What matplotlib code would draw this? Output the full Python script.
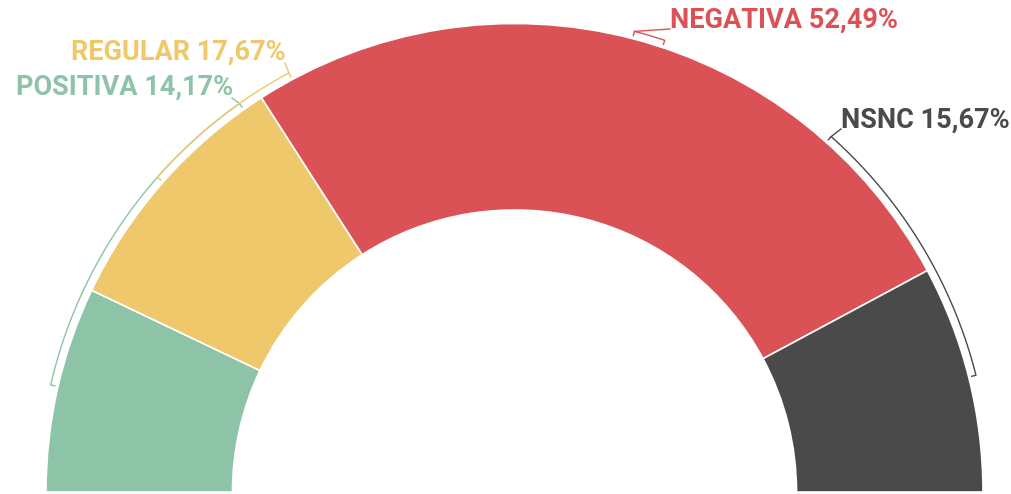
import numpy as np
import matplotlib
matplotlib.use("Agg")
import matplotlib.pyplot as plt
from matplotlib.patches import Wedge

# ---- data ----
categories = ["POSITIVA", "REGULAR", "NEGATIVA", "NSNC"]
values = [14.17, 17.67, 52.49, 15.67]
labels = ["POSITIVA 14,17%", "REGULAR 17,67%", "NEGATIVA 52,49%", "NSNC 15,67%"]
colors = ["#8dc3a7", "#eec86a", "#da5256", "#4a4a4a"]
label_colors = ["#8dc3a7", "#eec86a", "#da5256", "#4a4a4a"]

# ---- layout (pixel space, y up) ----
W, H = 1012, 494
cx, cy = 514.5, 2.0
r_out, r_in = 468.5, 282.0
r_br = 476.0      # bracket arc radius
r_tick = 471.0    # bracket tick inner radius
# bracket angular spans (deg) as drawn in the reference
bracket_spans = [(167.0, 125.3), (138.6, 118.3), (75.4, 71.6), (48.3, 14.2)]
# label anchor points (x, y from top), alignment
label_pos = [(233, 87, "right"), (286, 52, "right"), (670, 20, "left"), (841, 120, "left")]

fig = plt.figure(figsize=(W / 100, H / 100), dpi=100)
ax = fig.add_axes([0, 0, 1, 1])
ax.set_xlim(0, W)
ax.set_ylim(0, H)
ax.set_aspect("equal")
ax.axis("off")

total = sum(values)
start = 180.0
for v, c in zip(values, colors):
    span = 180.0 * v / total
    w = Wedge((cx, cy), r_out, start - span, start, width=r_out - r_in,
              facecolor=c, edgecolor="white", linewidth=1.2)
    ax.add_patch(w)
    start -= span


def pt(r, a):
    t = np.radians(a)
    return cx + r * np.cos(t), cy + r * np.sin(t)


for (a1, a2), c, (lx, ly, ha), txt, lc in zip(bracket_spans, colors, label_pos, labels, label_colors):
    th = np.linspace(a1, a2, 100)
    xs = [pt(r_tick, a1)[0]] + [pt(r_br, a)[0] for a in th] + [pt(r_tick, a2)[0]]
    ys = [pt(r_tick, a1)[1]] + [pt(r_br, a)[1] for a in th] + [pt(r_tick, a2)[1]]
    ax.plot(xs, ys, color=c, lw=1.0, solid_capstyle="butt")
    # leader from the upper end of the bracket to the label
    a_top = a1 if pt(r_br, a1)[1] > pt(r_br, a2)[1] else a2
    ex, ey = pt(r_br, a_top)
    if ha == "right":
        ax.plot([ex, lx - 1], [ey, H - ly - 11], color=c, lw=1.0)
    else:
        ax.plot([ex, lx], [ey, H - ly - 9], color=c, lw=1.0)
    ax.text(lx, H - ly, txt, ha=ha, va="center", color=lc,
            fontsize=19.5, fontweight="bold", family=["Roboto", "DejaVu Sans"])

fig.savefig("out.png", dpi=100, facecolor="white")
